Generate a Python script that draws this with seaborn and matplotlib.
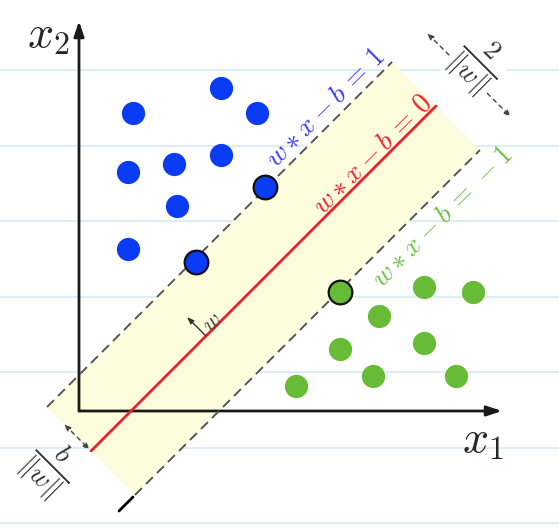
import numpy as np
import pandas as pd
import matplotlib.pyplot as plt
import seaborn as sns

# class points, in axis units (origin at the corner of the two axes)
blue_x = [54, 142, 178, 49, 95, 142, 98, 49]
blue_y = [298, 323, 298, 239, 247, 256, 205, 162]
green_x = [345, 394, 300, 261, 345, 217, 294, 377]
green_y = [124, 119, 95, 62, 68, 25, 35, 35]

# support vectors
sv_blue_x = [186, 117]
sv_blue_y = [224, 149]
sv_green_x = [261]
sv_green_y = [119]

# hyperplanes y = x + offset, for w*x - b = 1, 0, -1
levels = [1, 0, -1]
offsets = [36, -52, -140]
band_start, band_end = -28, 662   # the band is cut by x + y = const

BLUE = "#0a3cf5"
GREEN = "#67bb35"
RED = "#ef1f2d"
GREY = "#555555"


def point_on(k, s):
    # point of line y = x + k where x + y = s
    return (s - k) / 2, (s + k) / 2


def main():
    sns.set_style("white")
    plt.rcParams["mathtext.fontset"] = "cm"
    plt.rcParams["font.family"] = ["DejaVu Sans"]

    fig = plt.figure(figsize=(5.59, 5.30), dpi=100)
    ax = fig.add_axes([0, 0, 1, 1])
    ax.set_xlim(-79, 480)
    ax.set_ylim(-119, 411)
    ax.axis("off")

    # ruled paper background
    for y in np.arange(-112, 400, 75.5):
        ax.axhline(y, color="#d5eaf4", lw=1.2, zorder=0)

    # margin band
    k_top, k_bot = offsets[0], offsets[-1]
    corners = [point_on(k_top, band_start), point_on(k_top, band_end),
               point_on(k_bot, band_end), point_on(k_bot, band_start)]
    ax.add_patch(plt.Polygon(corners, closed=True, facecolor="#fdfdde",
                             edgecolor="none", zorder=1))

    # axes with arrows
    arrow = dict(arrowstyle="-|>,head_length=0.9,head_width=0.3",
                 color="#1a1a1a", lw=2, shrinkA=0, shrinkB=0)
    ax.annotate("", xy=(423, 0), xytext=(0, 0), arrowprops=arrow, zorder=2)
    ax.annotate("", xy=(0, 390), xytext=(0, 0), arrowprops=arrow, zorder=2)
    ax.text(-31, 376, r"$x_2$", fontsize=33, ha="center", va="center")
    ax.text(404, -29, r"$x_1$", fontsize=33, ha="center", va="center")

    # hyperplanes
    rows = []
    for lev, k in zip(levels, offsets):
        for s in (band_start, band_end):
            x, y = point_on(k, s)
            rows.append({"level": lev, "x": x, "y": y})
    lines = pd.DataFrame(rows)
    margins = lines[lines["level"] != 0]
    for lev, grp in margins.groupby("level"):
        sns.lineplot(data=grp, x="x", y="y", sort=False, color=GREY, lw=1.4,
                     dashes=(5, 3), ax=ax, zorder=3)
    sns.lineplot(data=lines[lines["level"] == 0], x="x", y="y", sort=False,
                 color=RED, lw=2, ax=ax, zorder=3)
    # small black tail of the lower margin line
    x0, y0 = point_on(k_bot, band_start)
    ax.plot([x0 - 16, x0 - 2], [y0 - 16, y0 - 2], color="black", lw=2, zorder=3)

    # points
    sns.scatterplot(x=blue_x, y=blue_y, color=BLUE, s=280, linewidth=0,
                    ax=ax, zorder=4)
    sns.scatterplot(x=green_x, y=green_y, color=GREEN, s=280, linewidth=0,
                    ax=ax, zorder=4)
    sns.scatterplot(x=sv_blue_x, y=sv_blue_y, color=BLUE, s=290,
                    edgecolor="#111111", linewidth=1.6, ax=ax, zorder=5)
    sns.scatterplot(x=sv_green_x, y=sv_green_y, color=GREEN, s=290,
                    edgecolor="#111111", linewidth=1.6, ax=ax, zorder=5)

    # line labels
    label_cols = ["#3a3aff", RED, "#6cc040"]
    label_pos = [(549, 21), (550, 15), (557, -29)]
    for lev, k, col, (s, d) in zip(levels, offsets, label_cols, label_pos):
        x, y = point_on(k + d, s)
        ax.text(x, y, r"$w * x - b \,=\, %d$" % lev, color=col, fontsize=20,
                rotation=45, ha="center", va="center", zorder=6)

    # normal vector w
    wx, wy = point_on(offsets[1], 202)
    ax.annotate("", xy=(wx - 19, wy + 19), xytext=(wx, wy),
                arrowprops=dict(arrowstyle="-|>,head_length=0.4,head_width=0.15",
                                color="#333333", lw=1, shrinkA=0, shrinkB=0),
                zorder=6)
    ax.text(wx + 6, wy + 14, r"$w$", fontsize=17, rotation=45, color="#444444",
            ha="center", va="center", zorder=6)

    # margin width 2/||w||
    dash_arrow = dict(arrowstyle="<|-|>,head_length=0.4,head_width=0.15",
                      color="#444444", lw=1, ls=(0, (3, 3)),
                      shrinkA=0, shrinkB=0)
    ax.annotate("", xy=(432, 294), xytext=(348, 378), arrowprops=dash_arrow,
                zorder=6)
    ax.text(399, 347, r"$\frac{2}{\Vert w\Vert}$", fontsize=28, rotation=-45,
            color="#333333", ha="center", va="center", zorder=7,
            bbox=dict(facecolor="white", edgecolor="none", pad=0))

    # offset b/||w||
    ax.annotate("", xy=(11, -39), xytext=(-15, -13), arrowprops=dash_arrow,
                zorder=6)
    ax.text(-29, -56, r"$\frac{b}{\Vert w\Vert}$", fontsize=28, rotation=-45,
            color="#333333", ha="center", va="center", zorder=7)

    fig.savefig("out.png", dpi=100)


if __name__ == "__main__":
    main()
